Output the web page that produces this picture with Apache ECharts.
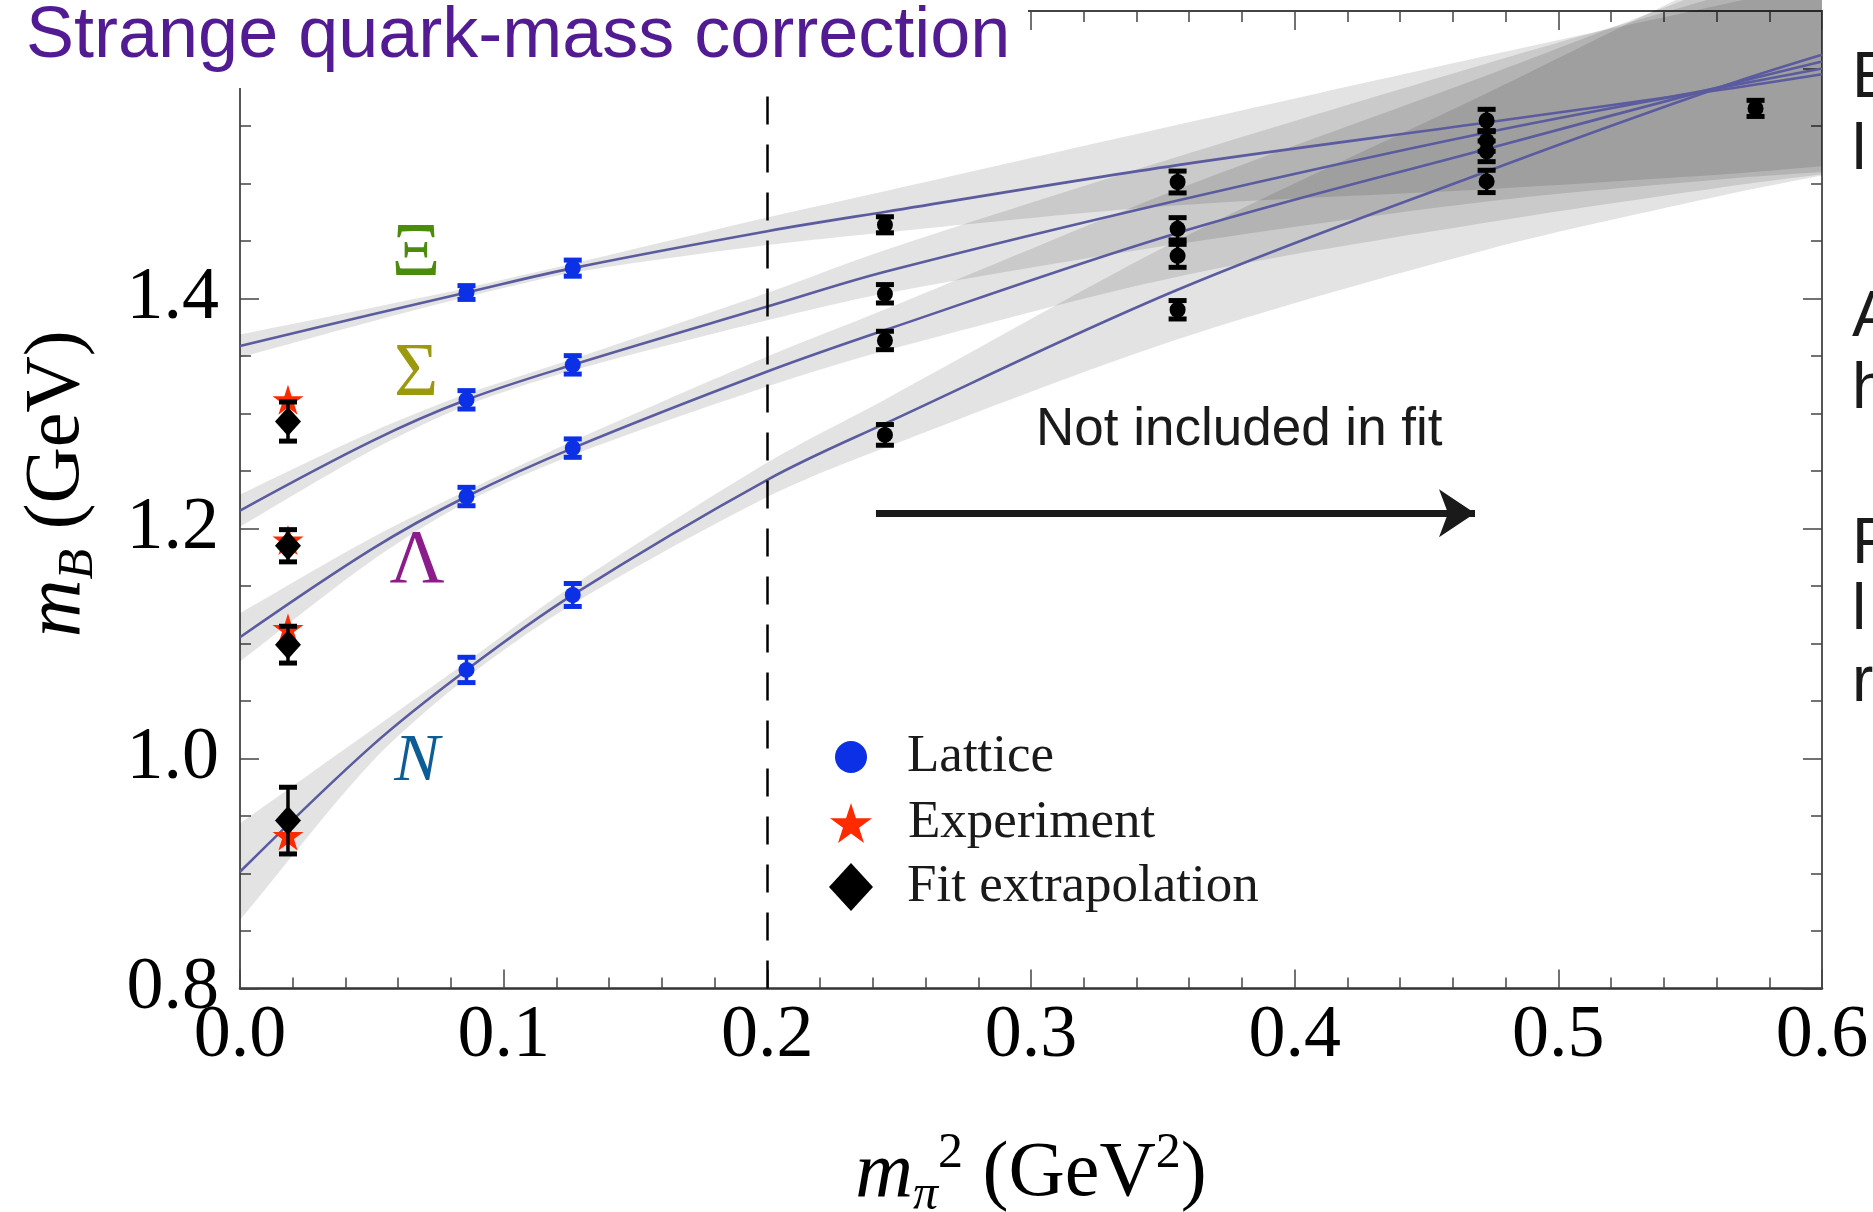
<!DOCTYPE html>
<html>
<head>
<meta charset="utf-8">
<script src="https://cdn.jsdelivr.net/npm/echarts@6.0.0/dist/echarts.min.js"></script>
<style>
html, body { margin: 0; padding: 0; background: #fff; }
#main { width: 1873px; height: 1212px; }
</style>
</head>
<body>
<div id="main"></div>
<script>
// ---- data ----
var baryonNames = ['Ξ', 'Σ', 'Λ', 'N'];
var xTickLabels = ['0.0', '0.1', '0.2', '0.3', '0.4', '0.5', '0.6'];
var yTickLabels = ['0.8', '1.0', '1.2', '1.4'];

// lattice points used in the fit
var latticeX = [0.0859, 0.1262];
var latticeXi = [1.4052, 1.4264];
var latticeSigma = [1.3119, 1.3423];
var latticeLambda = [1.2278, 1.2699];
var latticeN = [1.077, 1.1422];
var latticeErrXi = [0.006, 0.007];
var latticeErrSigma = [0.008, 0.008];
var latticeErrLambda = [0.008, 0.008];
var latticeErrN = [0.011, 0.010];

// heavier lattice points, not in fit
var heavyX = [0.2446, 0.3556, 0.4728];
var heavyXi = [1.4641, 1.5013, 1.5548];
var heavySigma = [1.4041, 1.4606, 1.537];
var heavyLambda = [1.3635, 1.4371, 1.528];
var heavyN = [1.2814, 1.3902, 1.5018];
var heavyErrXi = [0.007, 0.0095, 0.0097];
var heavyErrSigma = [0.008, 0.0097, 0.009];
var heavyErrLambda = [0.008, 0.010, 0.009];
var heavyErrN = [0.009, 0.008, 0.0097];
var heaviestX = [0.5748];
var heaviestY = [1.5653];
var heaviestErr = [0.007];

// physical point
var physX = 0.0182;
var expY = [1.312, 1.190, 1.113, 0.933];
var fitY = [1.293, 1.185, 1.099, 0.946];
var fitErr = [0.017, 0.014, 0.016, 0.029];

// fit curves and error bands
var curveX = [0, 0.05, 0.0859, 0.1262, 0.2, 0.245, 0.3556, 0.4728, 0.563, 0.6];
var curveXi = [1.3587, 1.386, 1.4052, 1.4264, 1.4585, 1.4755, 1.516, 1.553, 1.582, 1.595];
var curveSigma = [1.2156, 1.276, 1.3119, 1.3423, 1.393, 1.4235, 1.4853, 1.5444, 1.584, 1.600];
var curveLambda = [1.1054, 1.182, 1.2278, 1.2699, 1.3365, 1.3728, 1.457, 1.530, 1.585, 1.606];
var curveN = [0.9015, 1.011, 1.077, 1.1422, 1.2423, 1.2916, 1.4076, 1.5105, 1.585, 1.612];
var halfXi = [0.010, 0.006, 0.004, 0.004, 0.012, 0.018, 0.035, 0.058, 0.074, 0.080];
var halfSigma = [0.014, 0.008, 0.005, 0.005, 0.012, 0.019, 0.038, 0.060, 0.080, 0.090];
var halfLambda = [0.021, 0.010, 0.005, 0.006, 0.013, 0.018, 0.038, 0.064, 0.088, 0.098];
var halfN = [0.042, 0.014, 0.007, 0.008, 0.015, 0.021, 0.043, 0.068, 0.095, 0.105];

var cutX = 0.2;
var arrowX = [0.2412, 0.4684];
var arrowY = 1.2133;

// ---- helpers ----
var blue = '#0c30e6';
var red = '#ff2a00';
var curveColor = '#5b5b9f';
var axisCol = '#444';
var starPath = 'path://M50,0 L61.2,34.5 L97.6,34.5 L68.2,55.9 L79.4,90.5 L50,69.1 L20.6,90.5 L31.8,55.9 L2.4,34.5 L38.8,34.5 Z';

function pairs(xs, ys) {
    return xs.map(function (x, i) { return [x, ys[i]]; });
}
function triples(xs, ys, es) {
    return xs.map(function (x, i) { return [x, ys[i], es[i]]; });
}

function band(mid, half) {
    return {
        type: 'custom',
        coordinateSystem: 'cartesian2d',
        silent: true,
        clip: false,
        z: 1,
        data: pairs(curveX, mid),
        encode: { x: 0, y: 1 },
        renderItem: function (params, api) {
            if (params.dataIndex !== 0) return null;
            var up = curveX.map(function (x, i) { return api.coord([x, mid[i] + half[i]]); });
            var dn = curveX.map(function (x, i) { return api.coord([x, mid[i] - half[i]]); }).reverse();
            // duplicated corner points keep the ends square
            var pts = [up[0]].concat(up, [up[up.length - 1]], [dn[0]], dn, [dn[dn.length - 1]]);
            return {
                type: 'polygon',
                shape: { points: pts, smooth: 0.3 },
                style: { fill: 'rgba(0,0,0,0.11)' }
            };
        }
    };
}

function curve(ys) {
    return {
        type: 'line',
        data: pairs(curveX, ys),
        smooth: 0.35,
        symbol: 'none',
        z: 2,
        silent: true,
        lineStyle: { color: curveColor, width: 2.6 }
    };
}

function errorBars(data, color, capW, lw, z) {
    return {
        type: 'custom',
        coordinateSystem: 'cartesian2d',
        silent: true,
        z: z,
        data: data,
        encode: { x: 0, y: 1 },
        renderItem: function (params, api) {
            var x = api.value(0), y = api.value(1), e = api.value(2);
            var a = api.coord([x, y + e]);
            var b = api.coord([x, y - e]);
            var h = capW / 2;
            return {
                type: 'group',
                children: [
                    { type: 'line', shape: { x1: a[0], y1: a[1], x2: b[0], y2: b[1] }, style: { stroke: color, lineWidth: lw } },
                    { type: 'line', shape: { x1: a[0] - h, y1: a[1], x2: a[0] + h, y2: a[1] }, style: { stroke: color, lineWidth: lw + 1.5 } },
                    { type: 'line', shape: { x1: b[0] - h, y1: b[1], x2: b[0] + h, y2: b[1] }, style: { stroke: color, lineWidth: lw + 1.5 } }
                ]
            };
        }
    };
}

var latticePts = [].concat(pairs(latticeX, latticeXi), pairs(latticeX, latticeSigma), pairs(latticeX, latticeLambda), pairs(latticeX, latticeN));
var latticeBars = [].concat(triples(latticeX, latticeXi, latticeErrXi), triples(latticeX, latticeSigma, latticeErrSigma),
    triples(latticeX, latticeLambda, latticeErrLambda), triples(latticeX, latticeN, latticeErrN));
var heavyPts = [].concat(pairs(heavyX, heavyXi), pairs(heavyX, heavySigma), pairs(heavyX, heavyLambda), pairs(heavyX, heavyN), pairs(heaviestX, heaviestY));
var heavyBars = [].concat(triples(heavyX, heavyXi, heavyErrXi), triples(heavyX, heavySigma, heavyErrSigma),
    triples(heavyX, heavyLambda, heavyErrLambda), triples(heavyX, heavyN, heavyErrN), triples(heaviestX, heaviestY, heaviestErr));
var expPts = expY.map(function (y) { return [physX, y]; });
var fitPts = fitY.map(function (y) { return [physX, y]; });
var fitBars = fitY.map(function (y, i) { return [physX, y, fitErr[i]]; });

var nameRich = {
    i: { fontFamily: 'Liberation Serif', fontStyle: 'italic', fontSize: 80, lineHeight: 92, color: '#000' },
    s: { fontFamily: 'Liberation Serif', fontStyle: 'italic', fontSize: 50, lineHeight: 50, verticalAlign: 'bottom', color: '#000' },
    p: { fontFamily: 'Liberation Serif', fontSize: 50, lineHeight: 50, verticalAlign: 'top', color: '#000' },
    n: { fontFamily: 'Liberation Serif', fontSize: 78, lineHeight: 92, color: '#000' }
};

function legendBox(name, icon, w, h, cy, shift) {
    return {
        data: [name],
        icon: icon,
        itemWidth: w,
        itemHeight: h,
        left: 851 - w / 2,
        top: cy - 30,
        padding: 0,
        selectedMode: false,
        orient: 'vertical',
        itemStyle: { opacity: 1 },
        textStyle: { fontFamily: 'Liberation Serif', fontSize: 53, color: '#1a1a1a', lineHeight: 60, padding: [0, 0, 0, shift] }
    };
}

function xAx(pos, withLabels) {
    return {
        type: 'value', min: 0, max: 0.6, interval: 0.1, position: pos,
        name: withLabels ? '{i|m}{s|π}{p|2}{n| (GeV}{p|2}{n|)}' : '',
        nameLocation: 'middle', nameGap: 140,
        nameTextStyle: { rich: nameRich },
        axisLine: { show: true, onZero: false, lineStyle: { color: withLabels ? '#333' : axisCol, width: withLabels ? 2.5 : 1.8 } },
        axisTick: { show: true, inside: true, length: 19, lineStyle: { color: axisCol, width: 1.5 } },
        minorTick: { show: true, splitNumber: 5, length: 11, lineStyle: { color: axisCol, width: 1.5 } },
        axisLabel: {
            show: withLabels, margin: 11, showMinLabel: true, showMaxLabel: true,
            fontFamily: 'Liberation Serif', fontSize: 74, color: '#000',
            formatter: function (v) { return xTickLabels[Math.round(v * 10)] || ''; }
        },
        splitLine: { show: false }
    };
}

function yAx(pos, withLabels) {
    return {
        type: 'value', min: 0.8, max: 1.65, interval: 0.2, position: pos,
        name: withLabels ? '{i|m}{s|B}{n| (GeV)}' : '',
        nameLocation: 'middle', nameRotate: 90, nameGap: 136,
        nameTextStyle: { rich: nameRich, padding: [0, 0, 0, 32] },
        axisLine: { show: true, onZero: false, lineStyle: { color: axisCol, width: 1.8 } },
        axisTick: { show: true, inside: true, length: 19, lineStyle: { color: axisCol, width: 1.5 } },
        minorTick: { show: true, splitNumber: 4, length: 11, lineStyle: { color: axisCol, width: 1.5 } },
        axisLabel: {
            show: withLabels, margin: 21, showMinLabel: true,
            fontFamily: 'Liberation Serif', fontSize: 74, color: '#000',
            formatter: function (v) {
                var s = v.toFixed(1);
                return yTickLabels.indexOf(s) >= 0 ? s : '';
            }
        },
        splitLine: { show: false }
    };
}

var labelColors = ['#4c8c0c', '#9c9a0c', '#8c1c8c', '#0c5c96'];
var labelPos = [[416, 255], [416, 375], [417, 562], [417, 762]];
var rightLetters = ['E', 'l', 'A', 'h', 'F', 'l', 'r'];
var rightLetterY = [79, 151, 318, 390, 545, 611, 683];

var graphics = [
    { type: 'rect', shape: { x: 0, y: 0, width: 1028, height: 88 }, style: { fill: '#fff' }, z: 100, silent: true },
    {
        type: 'text', x: 1036, y: 430, z: 50, silent: true,
        style: { text: 'Not included in fit', fontFamily: 'Liberation Sans', fontSize: 53, fill: '#1a1a1a', align: 'left', verticalAlign: 'middle' }
    }
];
baryonNames.forEach(function (b, i) {
    graphics.push({
        type: 'text', x: labelPos[i][0], y: labelPos[i][1], z: 50, silent: true,
        style: {
            text: b, fontFamily: 'Liberation Serif', fontSize: b === 'N' ? 68 : 76, fontStyle: b === 'N' ? 'italic' : 'normal',
            fill: labelColors[i], align: 'center', verticalAlign: 'middle'
        }
    });
});
rightLetters.forEach(function (t, i) {
    graphics.push({
        type: 'text', x: 1852, y: rightLetterY[i], z: 50, silent: true,
        style: { text: t, fontFamily: 'Liberation Sans', fontSize: 64, fill: '#1a1a1a', align: 'left', verticalAlign: 'middle' }
    });
});

var option = {
    animation: false,
    backgroundColor: '#fff',
    title: {
        text: 'Strange quark-mass correction',
        left: 26, top: 1.5, padding: 0, z: 110,
        textStyle: { fontFamily: 'Liberation Sans', fontSize: 72, fontWeight: 'normal', color: '#531b93' }
    },
    grid: { left: 240, right: 51, top: 11, bottom: 223.5, containLabel: false, outerBoundsMode: 'none' },
    legend: [
        legendBox('Lattice', 'circle', 32, 32, 757, 35),
        legendBox('Experiment', starPath, 42, 40, 823, 31),
        legendBox('Fit extrapolation', 'diamond', 44, 48, 887, 29)
    ],
    xAxis: [xAx('bottom', true), xAx('top', false)],
    yAxis: [yAx('left', true), yAx('right', false)],
    graphic: { elements: graphics },
    series: [
        band(curveXi, halfXi),
        band(curveSigma, halfSigma),
        band(curveLambda, halfLambda),
        band(curveN, halfN),
        curve(curveXi),
        curve(curveSigma),
        curve(curveLambda),
        curve(curveN),
        errorBars(latticeBars, blue, 18, 3.5, 4),
        {
            name: 'Lattice', type: 'scatter', data: latticePts, symbol: 'circle', symbolSize: 16, z: 4, silent: true,
            itemStyle: { color: blue, opacity: 1 },
            markLine: {
                silent: true, animation: false, symbol: ['none', 'none'], label: { show: false },
                data: [
                    { xAxis: cutX, symbol: 'none', lineStyle: { type: [28, 20], color: '#000', width: 2.5 } },
                    [
                        { coord: [arrowX[0], arrowY], symbol: 'none', lineStyle: { type: 'solid', color: '#1a1a1a', width: 7 } },
                        { coord: [arrowX[1], arrowY], symbol: 'arrow', symbolSize: 36, lineStyle: { type: 'solid', color: '#1a1a1a', width: 7 } }
                    ]
                ]
            }
        },
        errorBars(heavyBars, '#000', 18, 3.5, 4),
        { name: 'Heavier', type: 'scatter', data: heavyPts, symbol: 'circle', symbolSize: 16, z: 4, silent: true, itemStyle: { color: '#000', opacity: 1 } },
        { name: 'Experiment', type: 'scatter', data: expPts, symbol: starPath, symbolSize: [31, 30], z: 5, silent: true, itemStyle: { color: red, opacity: 1 } },
        errorBars(fitBars, '#000', 18, 3.5, 6),
        { name: 'Fit extrapolation', type: 'scatter', data: fitPts, symbol: 'diamond', symbolSize: [26, 29], z: 6, silent: true, itemStyle: { color: '#000', opacity: 1 } }
    ]
};

var myChart = echarts.init(document.getElementById('main'));
myChart.setOption(option);
</script>
</body>
</html>
